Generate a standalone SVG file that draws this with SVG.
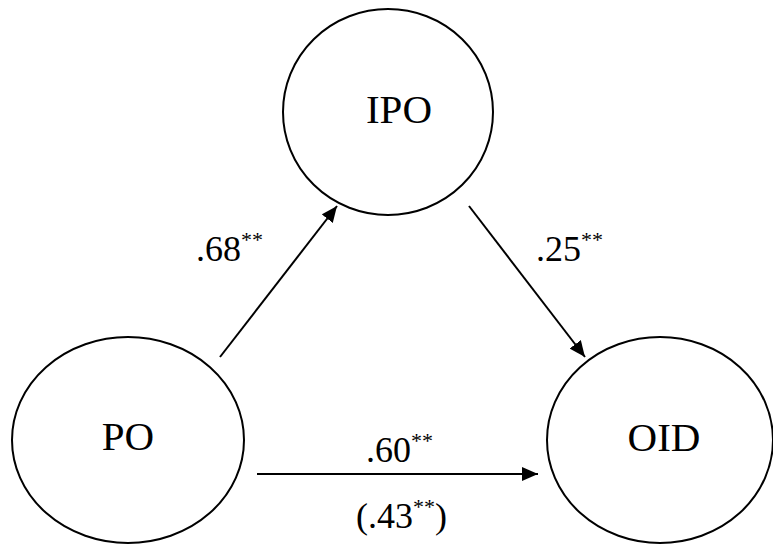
<svg xmlns="http://www.w3.org/2000/svg" width="773" height="545" viewBox="0 0 773 545">
<style>
.node{fill:#fff;stroke:#000;stroke-width:2}
.lbl{font-family:"Liberation Serif","Times New Roman",serif;font-size:41px;fill:#000}
.coef{font-family:"Liberation Serif","Times New Roman",serif;font-size:36px;fill:#000}
.sup{font-size:22px}
.edge{stroke:#000;stroke-width:2;fill:none;marker-end:url(#arr)}
</style>
<defs>
<marker id="arr" markerUnits="userSpaceOnUse" markerWidth="16" markerHeight="14" refX="16" refY="7" orient="auto">
<path d="M0,0 L16,7 L0,14 z" fill="#000"/>
</marker>
</defs>
<rect width="773" height="545" fill="#fff"/>
<g id="PO">
<ellipse class="node" cx="128" cy="440" rx="116" ry="103"/>
<text class="lbl" x="128" y="450" text-anchor="middle">PO</text>
</g>
<g id="IPO">
<ellipse class="node" cx="388" cy="112" rx="105" ry="103"/>
<text class="lbl" x="399" y="123" text-anchor="middle">IPO</text>
</g>
<g id="OID">
<ellipse class="node" cx="660" cy="440" rx="113" ry="103"/>
<text class="lbl" x="664" y="451" text-anchor="middle">OID</text>
</g>
<g id="connectors">
<line class="edge" x1="220" y1="357" x2="337" y2="206"/>
<line class="edge" x1="469" y1="206" x2="585" y2="357"/>
<line class="edge" x1="257" y1="474" x2="538" y2="474"/>
</g>
<g id="labels">
<text class="coef" x="196" y="261">.68<tspan class="sup" dy="-14">**</tspan></text>
<text class="coef" x="536" y="261">.25<tspan class="sup" dy="-14">**</tspan></text>
<text class="coef" x="366" y="462">.60<tspan class="sup" dy="-14">**</tspan></text>
<text class="coef" x="356" y="528">(.43<tspan class="sup" dy="-14">**</tspan><tspan dy="14">)</tspan></text>
</g>
</svg>
